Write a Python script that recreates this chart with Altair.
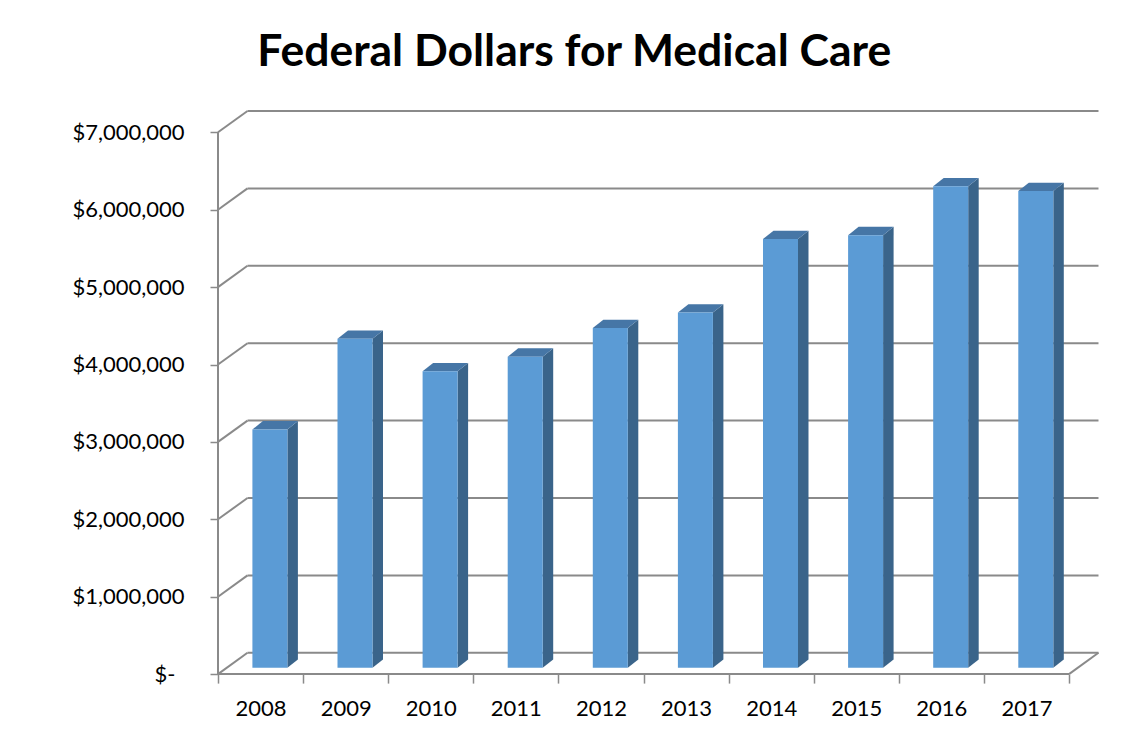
import altair as alt
import pandas as pd

# ---- data ----
YEARS = ["2008", "2009", "2010", "2011", "2012", "2013", "2014", "2015", "2016", "2017"]
VALUES = [3080000, 4250000, 3830000, 4020000, 4390000, 4590000, 5540000, 5590000, 6220000, 6160000]
Y_TICKS = [0, 1000000, 2000000, 3000000, 4000000, 5000000, 6000000, 7000000]
TITLE = "Federal Dollars for Medical Care"

# ---- 3-D (oblique) layout constants, in pixels ----
SLOT_PX = 85.1      # width of one category slot on the front floor edge
PX_PER_M = 77.4     # pixels per 1,000,000
DX_PX, DY_PX = 29.5, 21.3          # depth of back wall
BAR_LEFT_PX, BAR_W_PX = 34.4, 35.0  # bar front face within slot
BAR_BASE_PX = 6.3                   # bar front face above front floor edge
BAR_DX_PX, BAR_DY_PX = 10.5, 8.3    # bar depth

n = len(YEARS)
W = n * SLOT_PX + DX_PX
H = (Y_TICKS[-1] / 1e6) * PX_PER_M + DY_PX

def ux(px):
    return px / SLOT_PX

def uy(px):
    return px / PX_PER_M * 1e6

DXU, DYV = ux(DX_PX), uy(DY_PX)
xs = alt.Scale(domain=[0, n + DXU], nice=False, zero=False)
ys = alt.Scale(domain=[0, Y_TICKS[-1] + DYV], nice=False, zero=False)

GRID = "#8a8a8a"
FONT = "Lato"

year_arr = "[" + ",".join("'%s'" % y for y in YEARS) + "]"
x_vals = [k * 0.5 for k in range(2 * n + 1)]

X_AXIS = alt.Axis(
    values=x_vals,
    title=None,
    domain=False,
    grid=False,
    tickSize=9,
    tickColor=GRID,
    tickWidth=1.5,
    tickOpacity={"condition": {"test": "datum.value % 1 == 0", "value": 1}, "value": 0},
    labelExpr="datum.value % 1 != 0 ? " + year_arr + "[floor(datum.value)] : ''",
    labelFont=FONT,
    labelFontSize=22,
    labelColor="black",
    labelBaseline="middle",
    labelPadding=25,
    labelOverlap=False,
    labelFlush=False,
)
Y_AXIS = alt.Axis(
    values=Y_TICKS,
    title=None,
    domain=False,
    grid=False,
    tickSize=8,
    tickColor=GRID,
    tickWidth=1.5,
    labelExpr="datum.value == 0 ? '$-' : '$' + format(datum.value, ',')",
    labelFont=FONT,
    labelFontSize=22,
    labelColor="black",
    labelPadding={"condition": {"test": "datum.value == 0", "value": 35}, "value": 26},
    labelOverlap=False,
    labelFlush=False,
)

# ---- wall / floor lines ----
segs = []
for t in Y_TICKS:
    segs.append(dict(x=DXU, x2=n + DXU, y=t + DYV, y2=t + DYV))
    segs.append(dict(x=0, x2=DXU, y=t, y2=t + DYV))
segs.append(dict(x=0, x2=n, y=0, y2=0))
segs.append(dict(x=n, x2=n + DXU, y=0, y2=DYV))
segs.append(dict(x=0, x2=0, y=0, y2=Y_TICKS[-1]))
seg_df = pd.DataFrame(segs)

lines = alt.Chart(seg_df).mark_rule(color=GRID, strokeWidth=2).encode(
    x=alt.X("x:Q", scale=xs, axis=X_AXIS),
    x2="x2:Q",
    y=alt.Y("y:Q", scale=ys, axis=Y_AXIS),
    y2="y2:Q",
)

# ---- bars ----
front_rows, side_rows, top_rows = [], [], []
for i, (yr, v) in enumerate(zip(YEARS, VALUES)):
    xl = i + ux(BAR_LEFT_PX)
    xr = xl + ux(BAR_W_PX)
    bdx = ux(BAR_DX_PX)
    bdy = uy(BAR_DY_PX)
    base = uy(BAR_BASE_PX)
    top = base + v
    front_rows.append(dict(year=yr, x=xl, x2=xr, y=base, y2=top))
    side_rows += [
        dict(year=yr, x=xr, y=top, y2=base),
        dict(year=yr, x=xr + bdx, y=top + bdy, y2=base + bdy),
    ]
    top_rows += [
        dict(year=yr, x=xl, y=top, y2=top),
        dict(year=yr, x=xl + bdx, y=top + bdy, y2=top),
        dict(year=yr, x=xr, y=top + bdy, y2=top),
        dict(year=yr, x=xr + bdx, y=top + bdy, y2=top + bdy),
    ]

side = alt.Chart(pd.DataFrame(side_rows)).mark_area(
    orient="vertical", color="#3a648a"
).encode(
    x=alt.X("x:Q", scale=xs, axis=X_AXIS),
    y=alt.Y("y:Q", scale=ys, axis=Y_AXIS),
    y2="y2:Q",
    detail="year:N",
)

topf = alt.Chart(pd.DataFrame(top_rows)).mark_area(
    orient="vertical", color="#4676a6"
).encode(
    x=alt.X("x:Q", scale=xs, axis=X_AXIS),
    y=alt.Y("y:Q", scale=ys, axis=Y_AXIS),
    y2="y2:Q",
    detail="year:N",
)

front = alt.Chart(pd.DataFrame(front_rows)).mark_rect(color="#5b9bd5").encode(
    x=alt.X("x:Q", scale=xs, axis=X_AXIS),
    x2="x2:Q",
    y=alt.Y("y:Q", scale=ys, axis=Y_AXIS),
    y2="y2:Q",
)

chart = alt.layer(lines, side, topf, front).properties(
    width=W,
    height=H,
    background="white",
    padding={"left": 210, "top": 103, "right": 38, "bottom": 70},
    autosize=alt.AutoSizeParams(type="none"),
    title=alt.TitleParams(
        TITLE,
        font=FONT,
        fontSize=44.5,
        fontWeight="bold",
        color="black",
        anchor="middle",
        frame="group",
        dx=-84,
        offset=34,
    ),
).configure_view(stroke="transparent", strokeWidth=0)

chart.save("out.html", embed_options={"renderer": "svg", "actions": False})
